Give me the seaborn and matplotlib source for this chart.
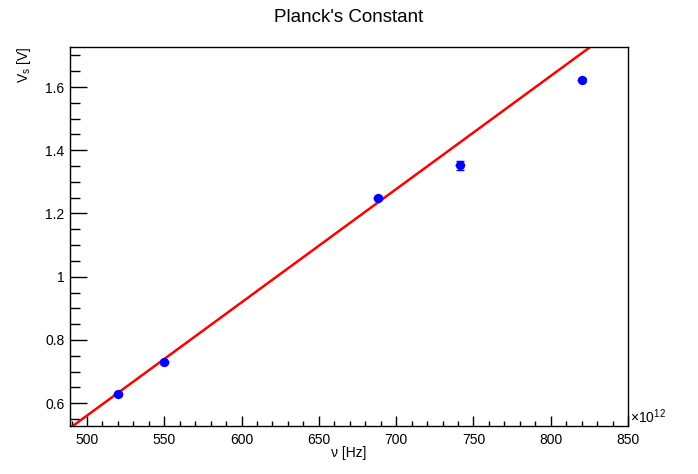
import numpy as np
import pandas as pd
import matplotlib
matplotlib.use("Agg")
import matplotlib.pyplot as plt
from matplotlib.ticker import MultipleLocator, FormatStrFormatter
import seaborn as sns

# data (frequency in 1e12 Hz, stopping voltage in V)
freq = [520, 550, 688, 741, 820]
vstop = [0.629, 0.730, 1.248, 1.352, 1.623]
verr = [0.006, 0.005, 0.006, 0.015, 0.005]
ferr = [3, 3, 3, 3, 3]
fit_slope = 0.00358
fit_intercept = -1.229
x_range = [489, 850]
y_range = [0.528, 1.7265]

sns.set_theme(style="ticks")
plt.rcParams['font.family'] = ['Liberation Sans', 'DejaVu Sans']
plt.rcParams['text.color'] = 'black'
plt.rcParams['axes.labelcolor'] = 'black'
plt.rcParams['xtick.color'] = 'black'
plt.rcParams['ytick.color'] = 'black'

fig = plt.figure(figsize=(6.98, 4.74), dpi=100)
ax = fig.add_axes([70/698, 1-426/474, 558/698, 379/474])

df = pd.DataFrame({"f": freq, "v": vstop})
xf = np.linspace(x_range[0], x_range[1], 200)
fit_df = pd.DataFrame({"f": xf, "v": fit_slope * xf + fit_intercept})
sns.lineplot(data=fit_df, x="f", y="v", color="red", lw=1.8, ax=ax, zorder=2)

ax.errorbar(freq, vstop, yerr=verr, fmt="none", ecolor="blue", elinewidth=1.0,
            capsize=3, capthick=1.0, zorder=3)
ax.errorbar(freq, vstop, xerr=ferr, fmt="none", ecolor="blue", elinewidth=1.0,
            capsize=0, zorder=3)
sns.scatterplot(data=df, x="f", y="v", color="blue", s=45, edgecolor="blue",
                linewidth=0, ax=ax, zorder=4)

ax.set_xlim(*x_range)
ax.set_ylim(*y_range)
ax.xaxis.set_major_locator(MultipleLocator(50))
ax.xaxis.set_minor_locator(MultipleLocator(10))
ax.yaxis.set_major_locator(MultipleLocator(0.2))
ax.yaxis.set_minor_locator(MultipleLocator(0.05))
ax.yaxis.set_major_formatter(FormatStrFormatter('%g'))
ax.tick_params(axis="both", which="both", direction="in", labelsize=10,
               color="black", width=1.0, labelcolor="black")
ax.tick_params(axis="x", which="major", length=7.2, pad=5)
ax.tick_params(axis="x", which="minor", length=3.6)
ax.tick_params(axis="y", which="major", length=12.2, pad=4)
ax.tick_params(axis="y", which="minor", length=7)
for s in ax.spines.values():
    s.set_color("black")
    s.set_linewidth(1.0)
    s.set_visible(True)

ax.set_xlabel("")
ax.set_ylabel("")
fig.text(349/698, 1-453/474, "ν [Hz]", ha="center", va="center", fontsize=10, color="black")
fig.text(24/698, 1-47/474, "V$_\\mathregular{s}$ [V]", ha="center", va="top",
         rotation=90, fontsize=10, color="black")
fig.text(630/698, 1-426/474, "×10$^\\mathregular{12}$", ha="left", va="bottom",
         fontsize=10, color="black")
fig.text(0.5, 1-17/474, "Planck's Constant", ha="center", va="center",
         fontsize=13.5, color="black")

fig.savefig("out.png", dpi=100, facecolor="white")
